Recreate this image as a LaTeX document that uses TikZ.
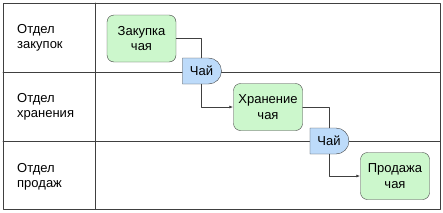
\documentclass[tikz,border=0pt]{standalone}
\usepackage{fontspec}
\setmainfont{Liberation Sans}
\usetikzlibrary{arrows.meta,shapes.misc}
\definecolor{ccffcc}{rgb}{0.80,0.97,0.80}
\definecolor{bbddff}{rgb}{0.74,0.86,0.98}
\definecolor{qqqqqq}{rgb}{0.25,0.25,0.25}

\begin{document}
\begin{tikzpicture}[line cap=round,line join=round,x=1pt,y=-1pt,
    every node/.style={font=\fontsize{13}{15.5}\selectfont},
    taskbox/.style={draw=qqqqqq,fill=ccffcc,rounded corners=7pt,align=center,
        minimum width=69pt,minimum height=47pt,inner sep=0pt},
    teabox/.style={draw=qqqqqq,fill=bbddff,rounded rectangle,rounded rectangle west arc=none,
        minimum width=41pt,minimum height=26pt,inner sep=1pt},
    lanelabel/.style={anchor=west,align=left,inner sep=0pt},
    flow/.style={draw=qqqqqq,line width=0.8pt},
    flowarrow/.style={flow,-{Latex[length=4pt,width=3pt]}}]
        \useasboundingbox (0,0) rectangle (443,212);
        % lanes
        \draw [line width=0.8pt,color=qqqqqq] (3,3) rectangle (440,209);
        \draw [line width=0.8pt,color=qqqqqq] (95,3)-- (95,209);
        \draw [line width=0.8pt,color=qqqqqq] (3,72)-- (440,72);
        \draw [line width=0.8pt,color=qqqqqq] (3,141)-- (440,141);
        \node [lanelabel] (lane1) at (17,38) {Отдел\\закупок};
        \node [lanelabel] (lane2) at (17,107) {Отдел\\хранения};
        \node [lanelabel] (lane3) at (17,177) {Отдел\\продаж};
        % tasks
        \node [taskbox] (buy) at (141.5,38.5) {Закупка\\чая};
        \node [taskbox] (store) at (268,107) {Хранение\\чая};
        \node [taskbox] (sell) at (395,176) {Продажа\\чая};
        \node [teabox] (tea1) at (201.5,71) {Чай};
        \node [teabox] (tea2) at (329,141) {Чай};
        % flows
        \draw [flow] (buy.east) -| (tea1.north);
        \draw [flowarrow] (tea1.south) |- (store.west);
        \draw [flow] (store.east) -| (tea2.north);
        \draw [flowarrow] (tea2.south) |- (sell.west);
    \end{tikzpicture}
\end{document}
